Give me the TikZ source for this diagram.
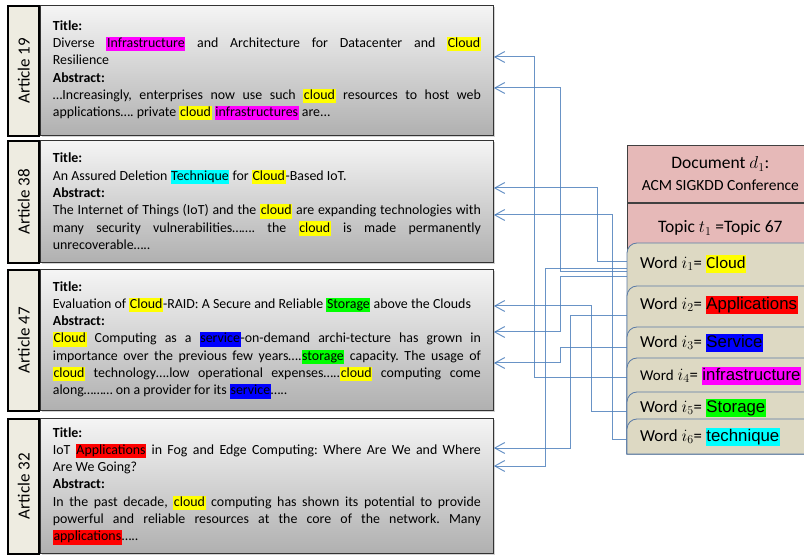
\documentclass[tikz,border=0pt]{standalone}
\usepackage{fontspec}
\setmainfont{Carlito}
\newfontfamily\arialfont{Liberation Sans}
\usetikzlibrary{arrows.meta,shadows}

\definecolor{tabfill}{HTML}{EEECE1}
\definecolor{docpink}{HTML}{E6B9B8}
\definecolor{wordfill}{HTML}{DDD9C3}
\definecolor{wordline}{HTML}{5B7BA6}
\definecolor{linkblue}{HTML}{4F81BD}
% highlight colours
\definecolor{hlyellow}{HTML}{FFFF00}
\definecolor{hlmagenta}{HTML}{FF00FF}
\definecolor{hlcyan}{HTML}{00FFFF}
\definecolor{hlgreen}{HTML}{00FF00}
\definecolor{hlblue}{HTML}{0000FF}
\definecolor{hlred}{HTML}{FF0000}

\setlength{\parindent}{0pt}
\tolerance=9999
\hbadness=10000
\hyphenpenalty=10000
\frenchspacing

% highlighted word
\newcommand{\hlword}[2]{{\setlength{\fboxsep}{0.6pt}\colorbox{#1}{\rule[-0.22em]{0pt}{0.95em}#2}}}

\tikzset{
  tab/.style={draw=black, line width=1.6pt, fill=tabfill, minimum width=31pt,
    inner sep=0pt, anchor=north east, font=\fontsize{17}{20}\selectfont},
  article/.style={draw=black!80, line width=0.8pt, top color=gray!8, bottom color=gray!62,
    drop shadow={shadow xshift=1.5pt, shadow yshift=-1.5pt, opacity=0.35},
    minimum width=453pt, text width=428pt, inner xsep=12.5pt, align=justify,
    anchor=north west, font=\fontsize{13.9}{17.3}\selectfont},
  pinkbox/.style={draw=black!75, line width=0.7pt, fill=docpink, minimum width=186pt,
    anchor=north west, align=center, font=\fontsize{17.5}{22}\selectfont},
  wordbox/.style={draw=wordline, line width=0.8pt, fill=wordfill},
  word/.style={anchor=west, inner xsep=13pt, font=\fontsize{16.8}{19}\selectfont},
  link/.style={<-, draw=linkblue, line width=1pt, draw opacity=0.85},
}

\begin{document}
\begin{tikzpicture}[x=1pt, y=-1pt, >={Straight Barb[length=10pt, width=11pt]}]
  \clip (0,0) rectangle (804,556);
  \fill[white] (0,0) rectangle (804,556);

  % Article 19
  \node[article, minimum height=130pt] (a19) at (40,5) {\textbf{Title:}\par
    Diverse \hlword{hlmagenta}{Infrastructure} and Architecture for Datacenter and \hlword{hlyellow}{Cloud}\linebreak Resilience\par
    \textbf{Abstract:}\par
    …Increasingly, enterprises now use such \hlword{hlyellow}{cloud} resources to host web\linebreak applications…. private \hlword{hlyellow}{cloud} \hlword{hlmagenta}{infrastructures} are...};
  \node[tab, minimum height=130pt] (t19) at (a19.north west) {\rotatebox{90}{Article 19}};

  % Article 38
  \node[article, minimum height=122pt] (a38) at (40,140) {\textbf{Title:}\par
    An Assured Deletion \hlword{hlcyan}{Technique} for \hlword{hlyellow}{Cloud}-Based IoT.\par
    \textbf{Abstract:}\par
    The Internet of Things (IoT) and the \hlword{hlyellow}{cloud} are expanding technologies with\linebreak many security vulnerabilities……. the \hlword{hlyellow}{cloud} is made permanently\linebreak unrecoverable…..};
  \node[tab, minimum height=122pt] (t38) at (a38.north west) {\rotatebox{90}{Article 38}};

  % Article 47
  \node[article, minimum height=141pt] (a47) at (40,269) {\textbf{Title:}\par
    Evaluation of \hlword{hlyellow}{Cloud}-RAID: A Secure and Reliable \hlword{hlgreen}{Storage} above the Clouds\par
    \textbf{Abstract:}\par
    \hlword{hlyellow}{Cloud} Computing as a \hlword{hlblue}{service}-on-demand archi-tecture has grown in\linebreak importance over the previous few years….\hlword{hlgreen}{storage} capacity. The usage of\linebreak \hlword{hlyellow}{cloud} technology….low operational expenses…..\hlword{hlyellow}{cloud} computing come\linebreak along……… on a provider for its \hlword{hlblue}{service}…..};
  \node[tab, minimum height=141pt] (t47) at (a47.north west) {\rotatebox{90}{Article 47}};

  % Article 32
  \node[article, minimum height=135pt] (a32) at (40,418) {\textbf{Title:}\par
    IoT \hlword{hlred}{Applications} in Fog and Edge Computing: Where Are We and Where\linebreak Are We Going?\par
    \textbf{Abstract:}\par
    In the past decade, \hlword{hlyellow}{cloud} computing has shown its potential to provide\linebreak powerful and reliable resources at the core of the network. Many\linebreak \hlword{hlred}{applications}…..};
  \node[tab, minimum height=135pt] (t32) at (a32.north west) {\rotatebox{90}{Article 32}};

  % Document and topic
  \node[pinkbox, minimum height=57pt] (doc) at (627,145) {Document $d_1$:\\{\fontsize{15.5}{17}\selectfont ACM SIGKDD Conference}};
  \node[pinkbox, minimum height=50pt] (topic) at (doc.south west) {Topic $t_1$ =Topic 67};

  % Word boxes
  \foreach \y in {243,286,327,358,392,419}
    \path[wordbox] (813,454) -- (627,454) [rounded corners=10pt] -- (627,\y) [sharp corners] -- (813,\y) -- cycle;

  \node[word] (w1) at (627,264) {Word $i_1$= \hlword{hlyellow}{Cloud}};
  \node[word] (w2) at (627,305) {Word $i_2$= \hlword{hlred}{\arialfont Applications}};
  \node[word] (w3) at (627,343) {Word $i_3$= \hlword{hlblue}{\arialfont Service}};
  \node[word] (w4) at (627,376) {{\fontsize{15}{18}\selectfont Word} $i_4$= \hlword{hlmagenta}{\arialfont infrastructure}};
  \node[word] (w5) at (627,408) {Word $i_5$= \hlword{hlgreen}{\arialfont Storage}};
  \node[word] (w6) at (627,437) {Word $i_6$= \hlword{hlcyan}{\arialfont technique}};

  % Links from words to articles
  \foreach \w/\wy/\vx/\a/\ay in {w4/377/534/a19/57, w1/272/560/a19/88, w1/262/597/a38/188,
      w6/439/612/a38/215, w5/411/591/a47/306, w1/277/560/a47/332, w3/348/560/a47/363,
      w2/316/570/a32/448, w1/269/545/a32/466}
    \draw[link] (\a.east |- 0,\ay) -| (\vx,\wy) -- (\w.west |- 0,\wy);
\end{tikzpicture}
\end{document}
